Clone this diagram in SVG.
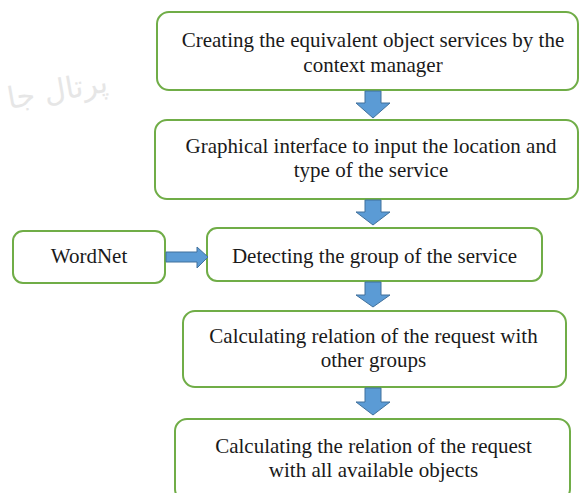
<svg xmlns="http://www.w3.org/2000/svg" width="579" height="493" viewBox="0 0 579 493">
  <style>
    .box { fill: #ffffff; stroke: #70AD47; stroke-width: 2; }
    .lbl { font-family: "Liberation Serif", "Times New Roman", serif; font-size: 21px; fill: #1a1a1a; text-anchor: middle; }
    .arr { fill: #5B9BD5; stroke: #41719C; stroke-width: 1; }
    .wm { font-family: "DejaVu Sans", sans-serif; font-size: 30px; fill: #e6e6e6; }
  </style>
  <rect width="579" height="493" fill="#ffffff"/>
  <text class="wm" x="108" y="100" direction="rtl" text-anchor="start" transform="rotate(-10 60 90)">پرتال جا</text>

  <g id="n1">
    <rect class="box" x="157" y="12" width="421" height="78" rx="12"/>
    <text class="lbl" x="373" y="47">Creating the equivalent object services by the</text>
    <text class="lbl" x="373" y="72">context manager</text>
  </g>
  <g id="n2">
    <rect class="box" x="155" y="120" width="423" height="79" rx="12"/>
    <text class="lbl" x="371" y="153">Graphical interface to input the location and</text>
    <text class="lbl" x="371" y="177">type of the service</text>
  </g>
  <g id="wordnet">
    <rect class="box" x="13" y="231" width="152" height="52" rx="10"/>
    <text class="lbl" x="89" y="263">WordNet</text>
  </g>
  <g id="n3">
    <rect class="box" x="207" y="228" width="335" height="53" rx="10"/>
    <text class="lbl" x="374.5" y="263">Detecting the group of the service</text>
  </g>
  <g id="n4">
    <rect class="box" x="183" y="311" width="383" height="76" rx="12"/>
    <text class="lbl" x="373.5" y="343">Calculating relation of the request with</text>
    <text class="lbl" x="373.5" y="367">other groups</text>
  </g>
  <g id="n5">
    <rect class="box" x="175" y="419" width="395" height="82" rx="12"/>
    <text class="lbl" x="373.5" y="453">Calculating the relation of the request</text>
    <text class="lbl" x="373.5" y="477">with all available objects</text>
  </g>

  <g id="connectors">
    <polygon class="arr" points="365,91 381,91 381,103 390,103 373,118 356,103 365,103"/>
    <polygon class="arr" points="365,200 381,200 381,212 390,212 373,225 356,212 365,212"/>
    <polygon class="arr" points="365,282 381,282 381,295 390,295 373,307 356,295 365,295"/>
    <polygon class="arr" points="365,388 381,388 381,402 390,402 373,415 356,402 365,402"/>
    <polygon class="arr" points="166,252 197,252 197,247 208,257 197,268 197,262 166,262"/>
  </g>
</svg>
